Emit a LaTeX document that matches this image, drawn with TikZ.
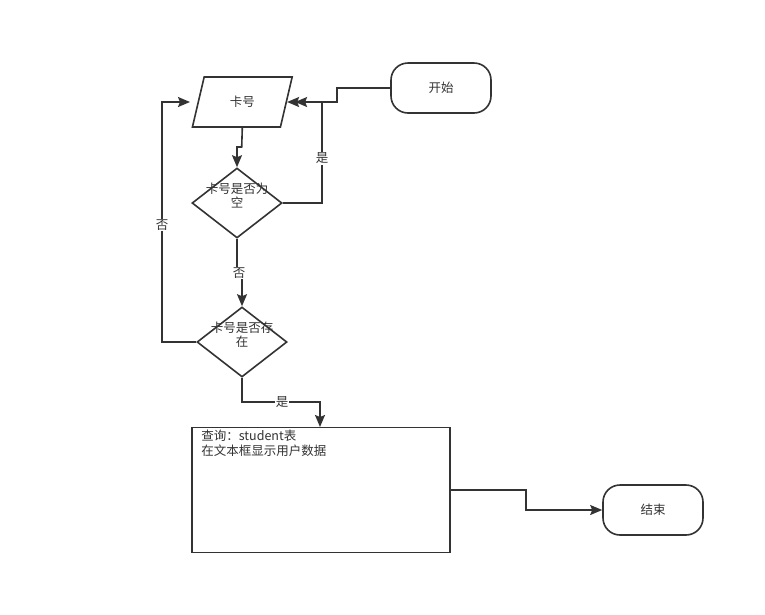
\documentclass[tikz,border=0pt]{standalone}
\usepackage{fontspec}
\setmainfont{Noto Sans CJK SC}
\usetikzlibrary{shapes.geometric,arrows.meta,calc}
\definecolor{ink}{HTML}{333333}
\begin{document}
\begin{tikzpicture}[x=1pt,y=-1pt,
  every node/.style={font=\fontsize{12.5}{15}\selectfont, text=ink},
  base/.style={draw=ink, line width=1.6pt, fill=white},
  term/.style={base, rounded corners=17pt, minimum width=100pt, minimum height=50pt},
  para/.style={base, trapezium, trapezium left angle=71.5, trapezium right angle=108.5, trapezium stretches=true, minimum width=100pt, minimum height=50pt, inner sep=0pt},
  dec/.style={base, diamond, minimum width=90pt, minimum height=70pt, inner sep=0pt, align=center},
  proc/.style={base, rectangle, minimum width=258pt, minimum height=125pt},
  arr/.style={draw=ink, fill=none, line width=1.6pt, -{Stealth[length=12pt,width=10pt,inset=2pt,fill=ink]}},
  lab/.style={fill=white, inner sep=1pt}
]
\useasboundingbox (0,0) rectangle (765,614);
\node[term] (s) at (441,88) {开始};
\node[para] (p) at (242.3,102) {卡号};
\node[dec] (d1) at (237,203) {};
\node[align=center] (d1t) at (237,196) {卡号是否为\\[-1pt]空};
\node[dec] (d2) at (242,342) {};
\node[align=center] (d2t) at (242,335) {卡号是否存\\[-1pt]在};
\node[proc] (q) at (321,490) {};
\node[anchor=north west, align=left, inner sep=0pt] (qt) at ($(q.north west)+(10,3)$) {查询：student表\\[0pt]在文本框显示用户数据};
\node[term] (e) at (653,510) {结束};
\coordinate (qin) at (320,427);
\coordinate (pin) at (190,102);

% start -> card
\draw[arr] (s.west) -- (337,88) -- (337,102) -- (p.east);
% d1 yes -> card
\draw[arr] (d1.east) -- (322,203) -- (322,102) -- ($(p.east)+(8,0)$);
\node[lab] (ly1) at (322,158) {是};
% card -> d1
\draw[arr] (p.south) -- (241.7,147) -- (237,147) -- (d1.north);
% d1 no -> d2
\draw[arr] (d1.south) -- (237,273) -- (242,273) -- (d2.north);
\node[lab] (ln1) at (239,273) {否};
% d2 no -> card
\draw[arr] (d2.west) -- (162,342) -- (162,102) -- (pin);
\node[lab] (ln2) at (162,225) {否};
% d2 yes -> query
\draw[arr] (d2.south) -- (242,402) -- (320,402) -- (qin);
\node[lab] (ly2) at (282,402) {是};
% query -> end
\draw[arr] (q.east) -- (526,490) -- (526,510) -- (e.west);
\end{tikzpicture}
\end{document}
